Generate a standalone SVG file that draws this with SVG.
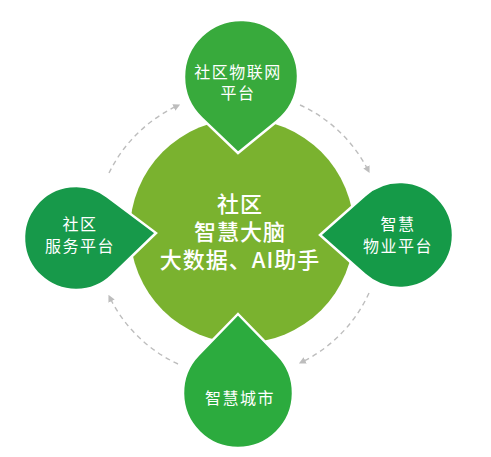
<svg xmlns="http://www.w3.org/2000/svg" width="491" height="457" viewBox="0 0 491 457">
<defs>
<style>
.drop{stroke:#fff;stroke-width:2.5;stroke-linejoin:miter}
.lbl{font-family:"Noto Sans CJK SC","Noto Sans",sans-serif;fill:#fff;text-anchor:middle;dominant-baseline:central}
.small{font-size:16px;letter-spacing:1.5px}
.big{font-size:22px;font-weight:500;letter-spacing:1px}
.arc{fill:none;stroke:#bdbdbd;stroke-width:1.4;stroke-dasharray:5 4}
</style>
<marker id="ah" viewBox="0 0 10 10" refX="5" refY="5" markerWidth="7" markerHeight="7" markerUnits="userSpaceOnUse" orient="auto">
<path d="M0,0 L10,5 L0,10 Z" fill="#bdbdbd"/>
</marker>
</defs>
<rect width="491" height="457" fill="#fff"/>
<g id="connectors">
<path class="arc" d="M109,173 A143,143 0 0 1 177,106" marker-end="url(#ah)"/>
<path class="arc" d="M300,105 A143,143 0 0 1 368,170" marker-end="url(#ah)"/>
<path class="arc" d="M369,293 A143,143 0 0 1 302,362" marker-end="url(#ah)"/>
<path class="arc" d="M178,364 A143,143 0 0 1 110,298" marker-end="url(#ah)"/>
</g>
<g id="brain">
<circle cx="242" cy="231" r="112" fill="#7ab22f"/>
<text class="lbl big" x="240" y="202">社区</text>
<text class="lbl big" x="240" y="230">智慧大脑</text>
<text class="lbl big" x="240" y="258">大数据、AI助手</text>
</g>
<g id="iot">
<path class="drop" fill="#38aa3c" d="M238,153 L201.6,118.2 A57,57 0 1 1 277,121.2 Z"/>
<text class="lbl small" x="238" y="71">社区物联网</text>
<text class="lbl small" x="238" y="92">平台</text>
</g>
<g id="property">
<path class="drop" fill="#159a48" d="M320,235 L364.9,195.3 A53,53 0 1 1 364.9,274.7 Z"/>
<text class="lbl small" x="398" y="223">智慧</text>
<text class="lbl small" x="398" y="245">物业平台</text>
</g>
<g id="service">
<path class="drop" fill="#17994a" d="M156,233 L112.1,275.4 A52,52 0 1 1 107.2,196.4 Z"/>
<text class="lbl small" x="80" y="223">社区</text>
<text class="lbl small" x="80" y="245">服务平台</text>
</g>
<g id="city">
<path class="drop" fill="#2cab3e" d="M238,314 L277.5,354.7 A55,55 0 1 1 198.5,354.7 Z"/>
<text class="lbl small" x="240" y="397">智慧城市</text>
</g>
</svg>
